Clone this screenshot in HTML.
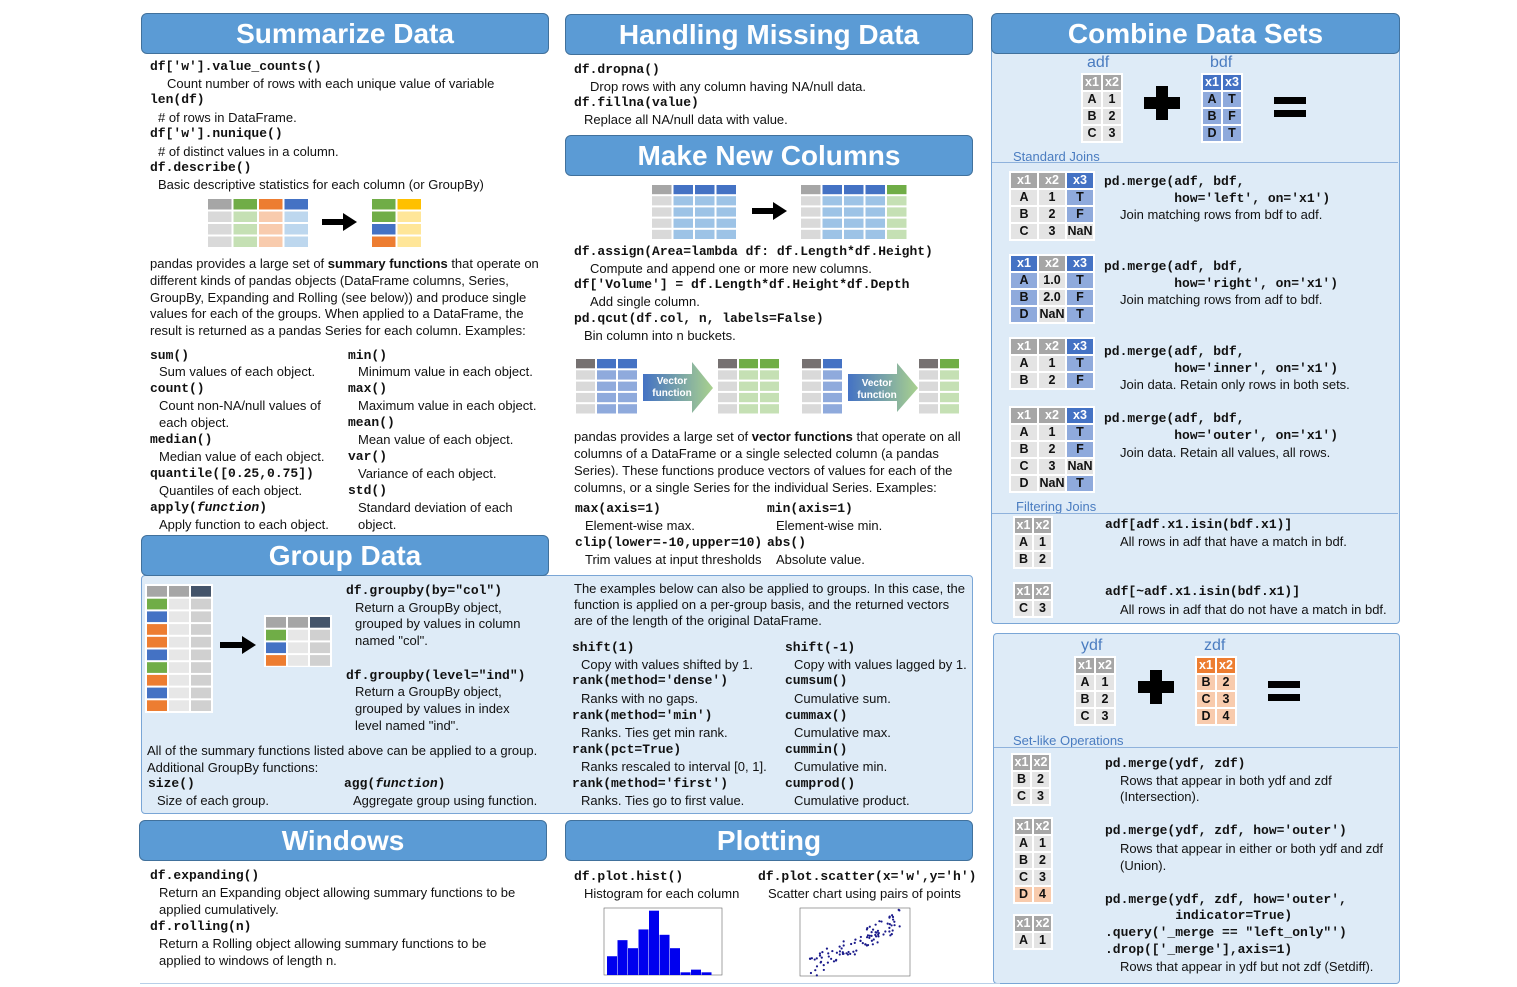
<!DOCTYPE html>
<html><head><meta charset="utf-8">
<style>
body{margin:0;width:1517px;height:987px;background:#fff;position:relative;overflow:hidden;font-family:"Liberation Sans",sans-serif}
.hd{position:absolute;background:#5b9bd5;border:1px solid #41719c;border-radius:6px;color:#fff;font:bold 28px "Liberation Sans",sans-serif;text-align:center;line-height:40px;height:39px}
.pn{position:absolute;background:#deebf7;border:1px solid #7aa6d6;border-radius:4px}
.c,.d{position:absolute;white-space:pre;line-height:17px}
.c{font:bold 13px "Liberation Mono",monospace;color:#111}
.d{font:13px "Liberation Sans",sans-serif;color:#111}
.lb{position:absolute;font:13px "Liberation Sans",sans-serif;color:#4a7cc0;white-space:nowrap}
.ln{position:absolute;height:1px;background:#8fb2dc}
table.m{position:absolute;border-collapse:separate;border-spacing:2px;background:#fff;font:bold 12.5px "Liberation Sans",sans-serif}
table.m td{height:15px;padding:0;text-align:center;background:#e4e4e4;color:#111;line-height:15px}
table.m td.h{background:#a6a6a6;color:#fff}
table.m td.H{background:#4472c4;color:#fff}
table.m td.B{background:#8faadc}
table.m td.O{background:#ed7d31;color:#fff}
table.m td.o{background:#f8cbad}
i{font-style:italic}
svg{position:absolute;left:0;top:0;pointer-events:none}
</style></head><body>

<div class="hd" style="left:141px;top:13px;width:406px">Summarize Data</div>
<div class="hd" style="left:565px;top:14px;width:406px">Handling Missing Data</div>
<div class="pn" style="left:991px;top:45px;width:407px;height:577px"></div>
<div class="hd" style="left:991px;top:13px;width:407px">Combine Data Sets</div>
<div class="hd" style="left:565px;top:135px;width:406px">Make New Columns</div>
<div class="pn" style="left:141px;top:575px;width:830px;height:237px"></div>
<div class="hd" style="left:141px;top:535px;width:406px">Group Data</div>
<div class="hd" style="left:139px;top:820px;width:406px">Windows</div>
<div class="hd" style="left:565px;top:820px;width:406px">Plotting</div>
<div class="pn" style="left:993px;top:633px;width:405px;height:349px"></div>

<!-- Summarize -->
<div class="c" style="left:150px;top:59px">df['w'].value_counts()</div>
<div class="d" style="left:167px;top:76px">Count number of rows with each unique value of variable</div>
<div class="c" style="left:150px;top:92px">len(df)</div>
<div class="d" style="left:158px;top:110px"># of rows in DataFrame.</div>
<div class="c" style="left:150px;top:126px">df['w'].nunique()</div>
<div class="d" style="left:158px;top:144px"># of distinct values in a column.</div>
<div class="c" style="left:150px;top:160px">df.describe()</div>
<div class="d" style="left:158px;top:177px">Basic descriptive statistics for each column (or GroupBy)</div>
<div class="d" style="left:150px;top:256px">pandas provides a large set of <b>summary functions</b> that operate on</div>
<div class="d" style="left:150px;top:273px">different kinds of pandas objects (DataFrame columns, Series,</div>
<div class="d" style="left:150px;top:290px">GroupBy, Expanding and Rolling (see below)) and produce single</div>
<div class="d" style="left:150px;top:306px">values for each of the groups. When applied to a DataFrame, the</div>
<div class="d" style="left:150px;top:323px">result is returned as a pandas Series for each column. Examples:</div>
<div class="c" style="left:150px;top:348px">sum()</div>
<div class="d" style="left:159px;top:364px">Sum values of each object.</div>
<div class="c" style="left:150px;top:381px">count()</div>
<div class="d" style="left:159px;top:398px">Count non-NA/null values of</div>
<div class="d" style="left:159px;top:415px">each object.</div>
<div class="c" style="left:150px;top:432px">median()</div>
<div class="d" style="left:159px;top:449px">Median value of each object.</div>
<div class="c" style="left:150px;top:466px">quantile([0.25,0.75])</div>
<div class="d" style="left:159px;top:483px">Quantiles of each object.</div>
<div class="c" style="left:150px;top:500px">apply(<i>function</i>)</div>
<div class="d" style="left:159px;top:517px">Apply function to each object.</div>
<div class="c" style="left:348px;top:348px">min()</div>
<div class="d" style="left:358px;top:364px">Minimum value in each object.</div>
<div class="c" style="left:348px;top:381px">max()</div>
<div class="d" style="left:358px;top:398px">Maximum value in each object.</div>
<div class="c" style="left:348px;top:415px">mean()</div>
<div class="d" style="left:358px;top:432px">Mean value of each object.</div>
<div class="c" style="left:348px;top:449px">var()</div>
<div class="d" style="left:358px;top:466px">Variance of each object.</div>
<div class="c" style="left:348px;top:483px">std()</div>
<div class="d" style="left:358px;top:500px">Standard deviation of each</div>
<div class="d" style="left:358px;top:517px">object.</div>

<!-- Missing -->
<div class="c" style="left:574px;top:62px">df.dropna()</div>
<div class="d" style="left:590px;top:79px">Drop rows with any column having NA/null data.</div>
<div class="c" style="left:574px;top:95px">df.fillna(value)</div>
<div class="d" style="left:584px;top:112px">Replace all NA/null data with value.</div>

<!-- New Columns -->
<div class="c" style="left:574px;top:244px">df.assign(Area=lambda df: df.Length*df.Height)</div>
<div class="d" style="left:590px;top:261px">Compute and append one or more new columns.</div>
<div class="c" style="left:574px;top:277px">df['Volume'] = df.Length*df.Height*df.Depth</div>
<div class="d" style="left:590px;top:294px">Add single column.</div>
<div class="c" style="left:574px;top:311px">pd.qcut(df.col, n, labels=False)</div>
<div class="d" style="left:584px;top:328px">Bin column into n buckets.</div>
<div class="d" style="left:574px;top:429px">pandas provides a large set of <b>vector functions</b> that operate on all</div>
<div class="d" style="left:574px;top:446px">columns of a DataFrame or a single selected column (a pandas</div>
<div class="d" style="left:574px;top:463px">Series). These functions produce vectors of values for each of the</div>
<div class="d" style="left:574px;top:480px">columns, or a single Series for the individual Series. Examples:</div>
<div class="c" style="left:575px;top:501px">max(axis=1)</div>
<div class="d" style="left:585px;top:518px">Element-wise max.</div>
<div class="c" style="left:575px;top:535px">clip(lower=-10,upper=10)</div>
<div class="d" style="left:585px;top:552px">Trim values at input thresholds</div>
<div class="c" style="left:767px;top:501px">min(axis=1)</div>
<div class="d" style="left:776px;top:518px">Element-wise min.</div>
<div class="c" style="left:767px;top:535px">abs()</div>
<div class="d" style="left:776px;top:552px">Absolute value.</div>

<!-- Group -->
<div class="c" style="left:346px;top:583px">df.groupby(by="col")</div>
<div class="d" style="left:355px;top:600px">Return a GroupBy object,</div>
<div class="d" style="left:355px;top:616px">grouped by values in column</div>
<div class="d" style="left:355px;top:633px">named "col".</div>
<div class="c" style="left:346px;top:668px">df.groupby(level="ind")</div>
<div class="d" style="left:355px;top:684px">Return a GroupBy object,</div>
<div class="d" style="left:355px;top:701px">grouped by values in index</div>
<div class="d" style="left:355px;top:718px">level named "ind".</div>
<div class="d" style="left:147px;top:743px">All of the summary functions listed above can be applied to a group.</div>
<div class="d" style="left:147px;top:760px">Additional GroupBy functions:</div>
<div class="c" style="left:148px;top:776px">size()</div>
<div class="d" style="left:157px;top:793px">Size of each group.</div>
<div class="c" style="left:344px;top:776px">agg(<i>function</i>)</div>
<div class="d" style="left:353px;top:793px">Aggregate group using function.</div>
<div class="d" style="left:574px;top:581px">The examples below can also be applied to groups. In this case, the</div>
<div class="d" style="left:574px;top:597px">function is applied on a per-group basis, and the returned vectors</div>
<div class="d" style="left:574px;top:613px">are of the length of the original DataFrame.</div>
<div class="c" style="left:572px;top:640px">shift(1)</div>
<div class="d" style="left:581px;top:657px">Copy with values shifted by 1.</div>
<div class="c" style="left:572px;top:673px">rank(method='dense')</div>
<div class="d" style="left:581px;top:691px">Ranks with no gaps.</div>
<div class="c" style="left:572px;top:708px">rank(method='min')</div>
<div class="d" style="left:581px;top:725px">Ranks. Ties get min rank.</div>
<div class="c" style="left:572px;top:742px">rank(pct=True)</div>
<div class="d" style="left:581px;top:759px">Ranks rescaled to interval [0, 1].</div>
<div class="c" style="left:572px;top:776px">rank(method='first')</div>
<div class="d" style="left:581px;top:793px">Ranks. Ties go to first value.</div>
<div class="c" style="left:785px;top:640px">shift(-1)</div>
<div class="d" style="left:794px;top:657px">Copy with values lagged by 1.</div>
<div class="c" style="left:785px;top:673px">cumsum()</div>
<div class="d" style="left:794px;top:691px">Cumulative sum.</div>
<div class="c" style="left:785px;top:708px">cummax()</div>
<div class="d" style="left:794px;top:725px">Cumulative max.</div>
<div class="c" style="left:785px;top:742px">cummin()</div>
<div class="d" style="left:794px;top:759px">Cumulative min.</div>
<div class="c" style="left:785px;top:776px">cumprod()</div>
<div class="d" style="left:794px;top:793px">Cumulative product.</div>

<!-- Windows -->
<div class="c" style="left:150px;top:868px">df.expanding()</div>
<div class="d" style="left:159px;top:885px">Return an Expanding object allowing summary functions to be</div>
<div class="d" style="left:159px;top:902px">applied cumulatively.</div>
<div class="c" style="left:150px;top:919px">df.rolling(n)</div>
<div class="d" style="left:159px;top:936px">Return a Rolling object allowing summary functions to be</div>
<div class="d" style="left:159px;top:953px">applied to windows of length n.</div>

<!-- Plotting -->
<div class="c" style="left:574px;top:869px">df.plot.hist()</div>
<div class="d" style="left:584px;top:886px">Histogram for each column</div>
<div class="c" style="left:758px;top:869px">df.plot.scatter(x='w',y='h')</div>
<div class="d" style="left:768px;top:886px">Scatter chart using pairs of points</div>

<!-- Combine -->
<div class="lb" style="left:1087px;top:54px;font-size:16px">adf</div>
<div class="lb" style="left:1210px;top:54px;font-size:16px">bdf</div>
<table class="m" style="left:1081px;top:73px"><tr><td class="h" style="width:18px">x1</td><td class="h" style="width:18px">x2</td></tr><tr><td>A</td><td>1</td></tr><tr><td>B</td><td>2</td></tr><tr><td>C</td><td>3</td></tr></table>
<table class="m" style="left:1201px;top:73px"><tr><td class="H" style="width:18px">x1</td><td class="H" style="width:18px">x3</td></tr><tr><td class="B">A</td><td class="B">T</td></tr><tr><td class="B">B</td><td class="B">F</td></tr><tr><td class="B">D</td><td class="B">T</td></tr></table>
<div class="lb" style="left:1013px;top:149px">Standard Joins</div>
<div class="ln" style="left:992px;top:162px;width:406px"></div>

<table class="m" style="left:1009px;top:171px"><tr><td class="h" style="width:26px">x1</td><td class="h" style="width:26px">x2</td><td class="H" style="width:26px">x3</td></tr><tr><td>A</td><td>1</td><td class="B">T</td></tr><tr><td>B</td><td>2</td><td class="B">F</td></tr><tr><td>C</td><td>3</td><td>NaN</td></tr></table>
<div class="c" style="left:1104px;top:174px">pd.merge(adf, bdf,</div>
<div class="c" style="left:1104px;top:191px">         how='left', on='x1')</div>
<div class="d" style="left:1120px;top:207px">Join matching rows from bdf to adf.</div>

<table class="m" style="left:1009px;top:254px"><tr><td class="H" style="width:26px">x1</td><td class="h" style="width:26px">x2</td><td class="H" style="width:26px">x3</td></tr><tr><td class="B">A</td><td>1.0</td><td class="B">T</td></tr><tr><td class="B">B</td><td>2.0</td><td class="B">F</td></tr><tr><td class="B">D</td><td>NaN</td><td class="B">T</td></tr></table>
<div class="c" style="left:1104px;top:259px">pd.merge(adf, bdf,</div>
<div class="c" style="left:1104px;top:276px">         how='right', on='x1')</div>
<div class="d" style="left:1120px;top:292px">Join matching rows from adf to bdf.</div>

<table class="m" style="left:1009px;top:337px"><tr><td class="h" style="width:26px">x1</td><td class="h" style="width:26px">x2</td><td class="H" style="width:26px">x3</td></tr><tr><td>A</td><td>1</td><td class="B">T</td></tr><tr><td>B</td><td>2</td><td class="B">F</td></tr></table>
<div class="c" style="left:1104px;top:344px">pd.merge(adf, bdf,</div>
<div class="c" style="left:1104px;top:361px">         how='inner', on='x1')</div>
<div class="d" style="left:1120px;top:377px">Join data. Retain only rows in both sets.</div>

<table class="m" style="left:1009px;top:406px"><tr><td class="h" style="width:26px">x1</td><td class="h" style="width:26px">x2</td><td class="H" style="width:26px">x3</td></tr><tr><td>A</td><td>1</td><td class="B">T</td></tr><tr><td>B</td><td>2</td><td class="B">F</td></tr><tr><td>C</td><td>3</td><td>NaN</td></tr><tr><td>D</td><td>NaN</td><td class="B">T</td></tr></table>
<div class="c" style="left:1104px;top:411px">pd.merge(adf, bdf,</div>
<div class="c" style="left:1104px;top:428px">         how='outer', on='x1')</div>
<div class="d" style="left:1120px;top:445px">Join data. Retain all values, all rows.</div>

<div class="lb" style="left:1016px;top:499px">Filtering Joins</div>
<div class="ln" style="left:992px;top:513px;width:406px"></div>
<table class="m" style="left:1013px;top:516px"><tr><td class="h" style="width:17px">x1</td><td class="h" style="width:17px">x2</td></tr><tr><td>A</td><td>1</td></tr><tr><td>B</td><td>2</td></tr></table>
<div class="c" style="left:1105px;top:517px">adf[adf.x1.isin(bdf.x1)]</div>
<div class="d" style="left:1120px;top:534px">All rows in adf that have a match in bdf.</div>
<table class="m" style="left:1013px;top:582px"><tr><td class="h" style="width:17px">x1</td><td class="h" style="width:17px">x2</td></tr><tr><td>C</td><td>3</td></tr></table>
<div class="c" style="left:1105px;top:584px">adf[~adf.x1.isin(bdf.x1)]</div>
<div class="d" style="left:1120px;top:602px">All rows in adf that do not have a match in bdf.</div>

<!-- set ops -->
<div class="lb" style="left:1081px;top:637px;font-size:16px">ydf</div>
<div class="lb" style="left:1204px;top:637px;font-size:16px">zdf</div>
<table class="m" style="left:1074px;top:656px"><tr><td class="h" style="width:18px">x1</td><td class="h" style="width:18px">x2</td></tr><tr><td>A</td><td>1</td></tr><tr><td>B</td><td>2</td></tr><tr><td>C</td><td>3</td></tr></table>
<table class="m" style="left:1195px;top:656px"><tr><td class="O" style="width:18px">x1</td><td class="O" style="width:18px">x2</td></tr><tr><td class="o">B</td><td class="o">2</td></tr><tr><td class="o">C</td><td class="o">3</td></tr><tr><td class="o">D</td><td class="o">4</td></tr></table>
<div class="lb" style="left:1013px;top:733px">Set-like Operations</div>
<div class="ln" style="left:994px;top:747px;width:404px"></div>
<table class="m" style="left:1011px;top:753px"><tr><td class="h" style="width:17px">x1</td><td class="h" style="width:17px">x2</td></tr><tr><td>B</td><td>2</td></tr><tr><td>C</td><td>3</td></tr></table>
<div class="c" style="left:1105px;top:756px">pd.merge(ydf, zdf)</div>
<div class="d" style="left:1120px;top:773px">Rows that appear in both ydf and zdf</div>
<div class="d" style="left:1120px;top:789px">(Intersection).</div>
<table class="m" style="left:1013px;top:817px"><tr><td class="h" style="width:17px">x1</td><td class="h" style="width:17px">x2</td></tr><tr><td>A</td><td>1</td></tr><tr><td>B</td><td>2</td></tr><tr><td>C</td><td>3</td></tr><tr><td class="o">D</td><td class="o">4</td></tr></table>
<div class="c" style="left:1105px;top:823px">pd.merge(ydf, zdf, how='outer')</div>
<div class="d" style="left:1120px;top:841px">Rows that appear in either or both ydf and zdf</div>
<div class="d" style="left:1120px;top:858px">(Union).</div>
<table class="m" style="left:1013px;top:914px"><tr><td class="h" style="width:17px">x1</td><td class="h" style="width:17px">x2</td></tr><tr><td>A</td><td>1</td></tr></table>
<div class="c" style="left:1105px;top:892px">pd.merge(ydf, zdf, how='outer',</div>
<div class="c" style="left:1105px;top:908px">         indicator=True)</div>
<div class="c" style="left:1105px;top:925px">.query('_merge == "left_only"')</div>
<div class="c" style="left:1105px;top:942px">.drop(['_merge'],axis=1)</div>
<div class="d" style="left:1120px;top:959px">Rows that appear in ydf but not zdf (Setdiff).</div>

<div style="position:absolute;left:140px;top:983px;width:860px;height:1px;background:#b8cfe8"></div>

<svg id="g" width="1517" height="987"></svg>
<svg width="1517" height="987">
<g font-family="Liberation Sans" font-weight="bold" font-size="10" fill="#fff" text-anchor="middle">
<text x="672" y="384">Vector</text><text x="672" y="396">function</text>
<text x="877" y="386">Vector</text><text x="877" y="398">function</text>
</g>
</svg>

<script>
var s=document.getElementById('g'),N='http://www.w3.org/2000/svg';
function r(x,y,w,h,f){var e=document.createElementNS(N,'rect');e.setAttribute('x',x);e.setAttribute('y',y);e.setAttribute('width',w);e.setAttribute('height',h);e.setAttribute('fill',f);s.appendChild(e);}
function poly(p,f){var e=document.createElementNS(N,'polygon');e.setAttribute('points',p);e.setAttribute('fill',f);s.appendChild(e);return e;}
function grid(x,y,cw,rh,cols){
 for(var c=0;c<cols.length;c++)for(var k=0;k<cols[c].length;k++)r(x+c*cw+1,y+k*rh+1,cw-2,rh-2,cols[c][k]);}
function col(h,b,n){var a=[h];for(var i=0;i<n;i++)a.push(Array.isArray(b)?b[i]:b);return a;}
var G='#d9d9d9',LB='#9dc3e6',LG='#c5e0b4',LO='#f8cbad',LBl='#bdd7ee';
grid(207,198,25.5,12.5,[col('#a6a6a6',G,3),col('#70ad47',LG,3),col('#ed7d31',LO,3),col('#4472c4',LBl,3)]);
grid(371,198,25.5,12.5,[col('#70ad47',['#70ad47','#4472c4','#ed7d31'],3),col('#ffc000','#ffe699',3)]);
function arrow(x,y,w){r(x,y-3,w-12,6,'#000');poly((x+w-14)+','+(y-9)+' '+(x+w)+','+y+' '+(x+w-14)+','+(y+9),'#000');}
arrow(322,222,35);arrow(752,211,35);arrow(220,645,36);
grid(651,184,21.5,11.2,[col('#a6a6a6',G,4),col('#4472c4',LB,4),col('#4472c4',LB,4),col('#4472c4',LB,4)]);
grid(800,184,21.5,11.2,[col('#a6a6a6',G,4),col('#4472c4',LB,4),col('#4472c4',LB,4),col('#4472c4',LB,4),col('#70ad47',LG,4)]);
var DG='#767171',B2='#8faadc',BH='#4472c4',GH='#70ad47';
grid(575,358,21,11.3,[col(DG,G,4),col(BH,B2,4),col(BH,B2,4)]);
grid(717,358,21,11.3,[col(DG,G,4),col(GH,LG,4),col(GH,LG,4)]);
grid(801,358,21,11.3,[col(DG,G,4),col(BH,B2,4)]);
grid(918,358,21,11.3,[col(DG,G,4),col(GH,LG,4)]);
var d=document.createElementNS(N,'defs');d.innerHTML='<linearGradient id="vg"><stop offset="0" stop-color="#4472c4"/><stop offset="1" stop-color="#a9d18e"/></linearGradient>';s.insertBefore(d,s.firstChild);
var p1=poly('643,374 692,374 692,362 713,388 692,413 692,401 643,401','url(#vg)');
var p2=poly('848,374 897,374 897,363 918,388 897,412 897,401 848,401','url(#vg)');
var gc=['#70ad47','#4472c4','#ed7d31','#ed7d31','#4472c4','#70ad47','#ed7d31','#4472c4','#ed7d31'];
r(145,584,68,129,'#fff');r(264,615,68,52,'#fff');
grid(146,585,22,12.7,[col('#a6a6a6',gc,9),col('#a6a6a6','#e7e7e7',9),col('#44546a','#d0d0d0',9)]);
grid(265,616,22,12.7,[col('#a6a6a6',['#70ad47','#4472c4','#ed7d31'],3),col('#a6a6a6','#e7e7e7',3),col('#44546a','#d0d0d0',3)]);
function plus(cx,cy){r(cx-18,cy-6,36,12,'#000');r(cx-6,cy-17,12,34,'#000');}
plus(1162,103);plus(1156,687);
r(1274,97,32,7,'#000');r(1274,110,32,7,'#000');
r(1268,681,32,7,'#000');r(1268,694,32,7,'#000');
r(590,905,133,73,'#fff');
var ax=604,ay=908,aw=118,ah=67;
var e=document.createElementNS(N,'rect');e.setAttribute('x',ax);e.setAttribute('y',ay);e.setAttribute('width',aw);e.setAttribute('height',ah);e.setAttribute('fill','none');e.setAttribute('stroke','#666');e.setAttribute('stroke-width','0.6');s.appendChild(e);
var hb=[7,13,10,17,24,15,10,1,2,1];for(var i=0;i<hb.length;i++){var h=hb[i]/25*ah;r(ax+3+i*10.5,ay+ah-h,10,h,'#0000ee');}
var sx=800,sy=908,sw=110,sh=68;
e=document.createElementNS(N,'rect');e.setAttribute('x',sx);e.setAttribute('y',sy);e.setAttribute('width',sw);e.setAttribute('height',sh);e.setAttribute('fill','none');e.setAttribute('stroke','#666');e.setAttribute('stroke-width','0.6');s.appendChild(e);
var seed=7;function rnd(){seed=(seed*16807)%2147483647;return seed/2147483647;}
for(i=0;i<100;i++){var t=rnd();var px=sx+10+t*90,py=sy+sh-8-t*48-(rnd()-0.5)*22;var c=document.createElementNS(N,'circle');c.setAttribute('cx',px);c.setAttribute('cy',py);c.setAttribute('r',1.1);c.setAttribute('fill','#1a1a8a');s.appendChild(c);}
</script>
</body></html>
